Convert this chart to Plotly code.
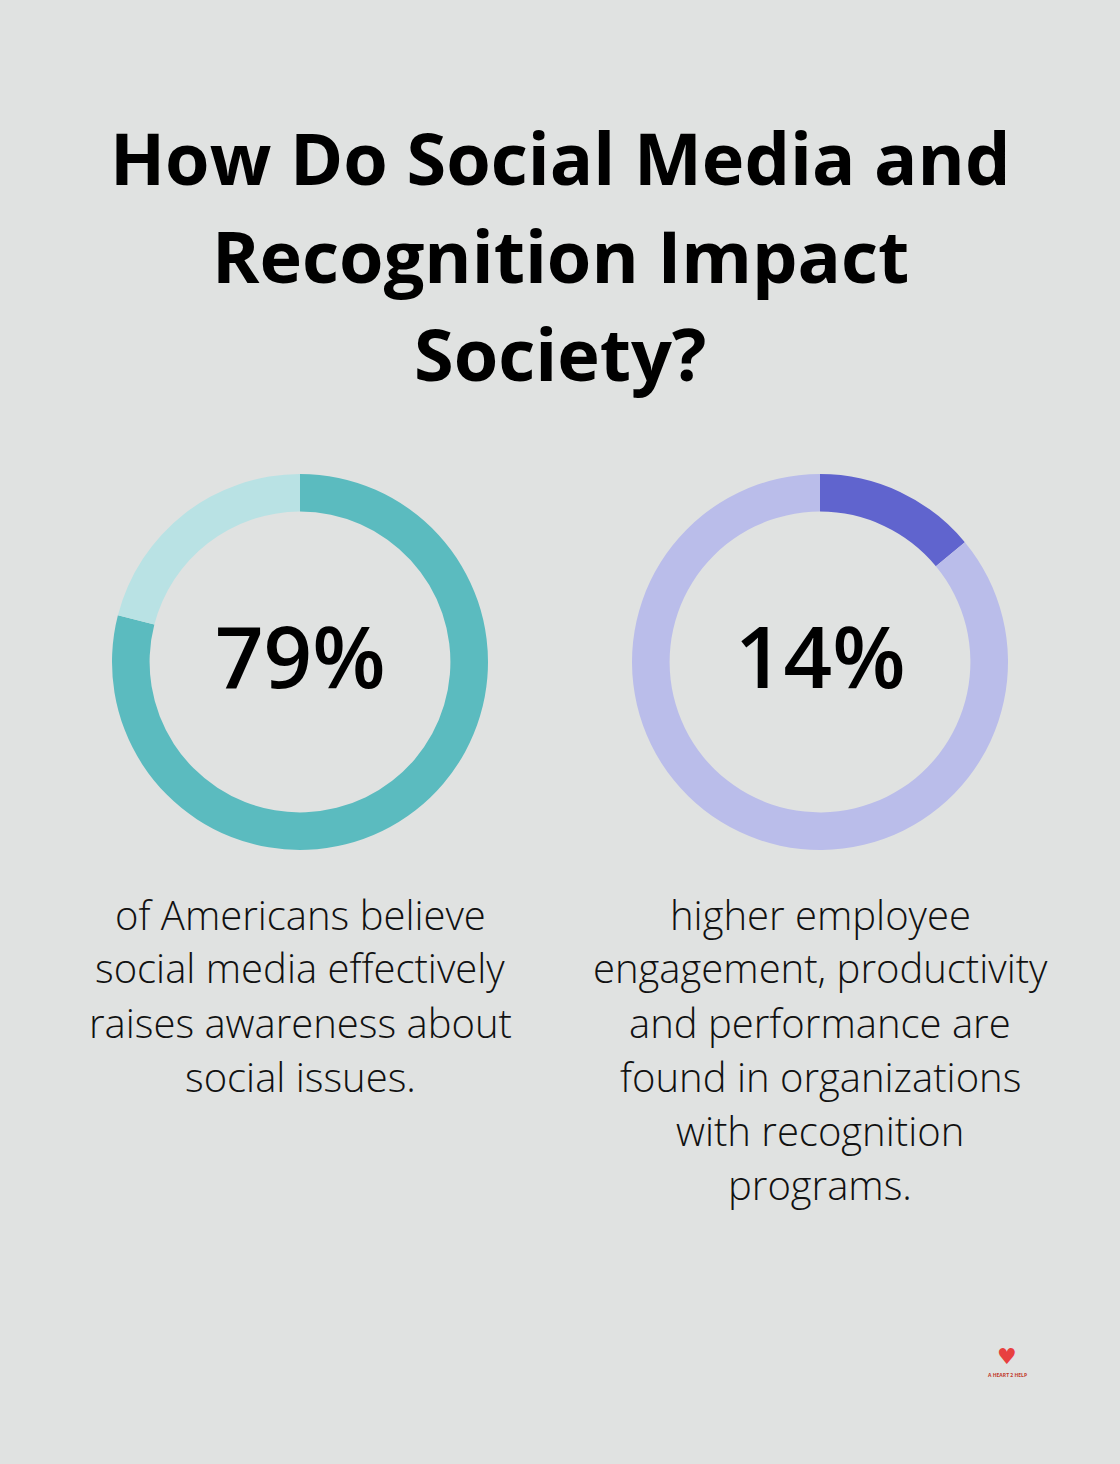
import plotly.graph_objects as go

# data
title_lines = ["How Do Social Media and", "Recognition Impact", "Society?"]
left_values = [79, 21]
right_values = [14, 86]
left_colors = ["#5bbbbf", "#b9e2e4"]
right_colors = ["#6064ce", "#babdea"]
left_label = "79%"
right_label = "14%"
left_caption = ["of Americans believe", "social media effectively",
                "raises awareness about", "social issues."]
right_caption = ["higher employee", "engagement, productivity",
                 "and performance are", "found in organizations",
                 "with recognition", "programs."]

W, H = 1120, 1464
BG = "#e0e2e1"
FONT = "Open Sans"


def py(y):
    # pixel from top -> paper coords
    return 1 - y / H


fig = go.Figure()

for vals, cols, cx in [(left_values, left_colors, 300), (right_values, right_colors, 820)]:
    r = 188
    fig.add_trace(go.Pie(
        values=vals,
        marker=dict(colors=cols, line=dict(width=0)),
        hole=0.8,
        sort=False,
        direction="clockwise",
        rotation=0,
        textinfo="none",
        hoverinfo="skip",
        showlegend=False,
        domain=dict(x=[(cx - r) / W, (cx + r) / W], y=[py(662 + r), py(662 - r)]),
    ))

annotations = []
for i, line in enumerate(title_lines):
    annotations.append(dict(
        text=line, x=0.5, y=py(157 + 98 * i), xref="paper", yref="paper",
        showarrow=False, xanchor="center", yanchor="middle",
        font=dict(family=FONT, size=72, color="#000000", weight=700),
    ))

for label, cx in [(left_label, 300), (right_label, 820)]:
    annotations.append(dict(
        text=label, x=cx / W, y=py(655), xref="paper", yref="paper",
        showarrow=False, xanchor="center", yanchor="middle",
        font=dict(family=FONT, size=85, color="#000000", weight=600),
    ))

for lines, cx in [(left_caption, 300), (right_caption, 820)]:
    for i, line in enumerate(lines):
        annotations.append(dict(
            text=line, x=cx / W, y=py(914 + 54 * i), xref="paper", yref="paper",
            showarrow=False, xanchor="center", yanchor="middle",
            font=dict(family=FONT, size=40, color="#111111", weight=300),
        ))

# small logo
annotations.append(dict(
    text="♥", x=1007 / W, y=py(1356), xref="paper", yref="paper",
    showarrow=False, xanchor="center", yanchor="middle",
    font=dict(family="DejaVu Sans", size=22, color="#e8403f"),
))
annotations.append(dict(
    text="A HEART 2 HELP", x=1007 / W, y=py(1375), xref="paper", yref="paper",
    showarrow=False, xanchor="center", yanchor="middle",
    font=dict(family=FONT, size=5, color="#c0392b", weight=700),
))

fig.update_layout(
    width=W, height=H,
    margin=dict(l=0, r=0, t=0, b=0),
    paper_bgcolor=BG, plot_bgcolor=BG,
    annotations=annotations,
)

fig.write_html("out.html", config={"displayModeBar": False},
               post_script="document.body.style.margin='0';")
